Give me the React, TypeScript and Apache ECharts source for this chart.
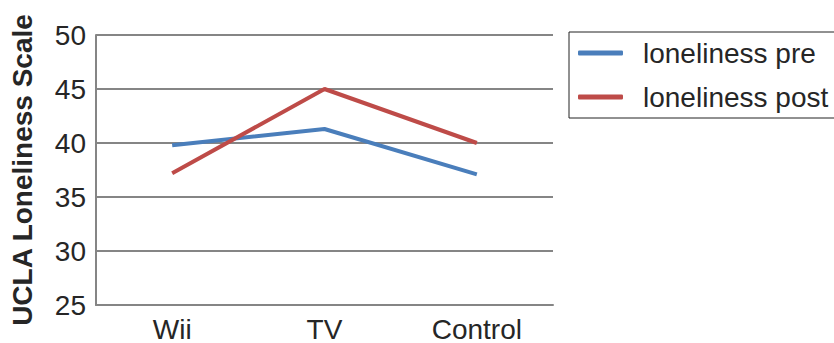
import React, { useEffect, useRef } from "react";
import * as echarts from "echarts";

const categories = ["Wii", "TV", "Control"];
const lonelinessPre = [39.8, 41.3, 37.1];
const lonelinessPost = [37.2, 45.0, 40.0];
const seriesNames = ["loneliness pre", "loneliness post"];
const yTitle = "UCLA Loneliness Scale";

export default function App() {
  const ref = useRef<HTMLDivElement>(null);
  useEffect(() => {
    if (!ref.current) return;
    const chart = echarts.init(ref.current, undefined, { renderer: "svg" });
    const font = "'Liberation Sans', Arial, sans-serif";
    chart.setOption({
      animation: false,
      backgroundColor: "#ffffff",
      grid: { left: 95, right: 281, top: 35, bottom: 36, containLabel: false },
      legend: {
        orient: "vertical",
        left: 569,
        top: 32,
        padding: [6, 12, 6, 9],
        itemGap: 14,
        itemWidth: 45,
        itemHeight: 5,
        icon: "roundRect",
        backgroundColor: "#ffffff",
        borderColor: "#222222",
        borderWidth: 1,
        borderRadius: 0,
        textStyle: { fontFamily: font, fontSize: 28, color: "#262626", padding: [0, 0, 0, 15], lineHeight: 30 },
        data: seriesNames,
      },
      xAxis: {
        type: "category",
        data: categories,
        boundaryGap: true,
        axisLine: { show: true, lineStyle: { color: "#858585", width: 2 } },
        axisTick: { show: false },
        axisLabel: { fontFamily: font, fontSize: 28, color: "#262626", margin: 10 },
      },
      yAxis: {
        type: "value",
        min: 25,
        max: 50,
        interval: 5,
        name: yTitle,
        nameLocation: "middle",
        nameRotate: 90,
        nameGap: 60,
        nameTextStyle: { fontFamily: font, fontSize: 28, fontWeight: "bold", color: "#262626" },
        axisLine: { show: true, lineStyle: { color: "#858585", width: 2 } },
        axisTick: { show: false },
        axisLabel: { fontFamily: font, fontSize: 28, color: "#262626", margin: 10 },
        splitLine: { show: true, lineStyle: { color: "#858585", width: 2 } },
      },
      series: [
        {
          name: seriesNames[0],
          type: "line",
          data: lonelinessPre,
          symbol: "none",
          color: "#4a7ebb",
          lineStyle: { color: "#4a7ebb", width: 4 },
        },
        {
          name: seriesNames[1],
          type: "line",
          data: lonelinessPost,
          symbol: "none",
          color: "#be4b48",
          lineStyle: { color: "#be4b48", width: 4 },
        },
      ],
    });
    return () => chart.dispose();
  }, []);
  return <div ref={ref} style={{ width: 834, height: 343, position: "absolute", left: 0, top: 0 }} />;
}
